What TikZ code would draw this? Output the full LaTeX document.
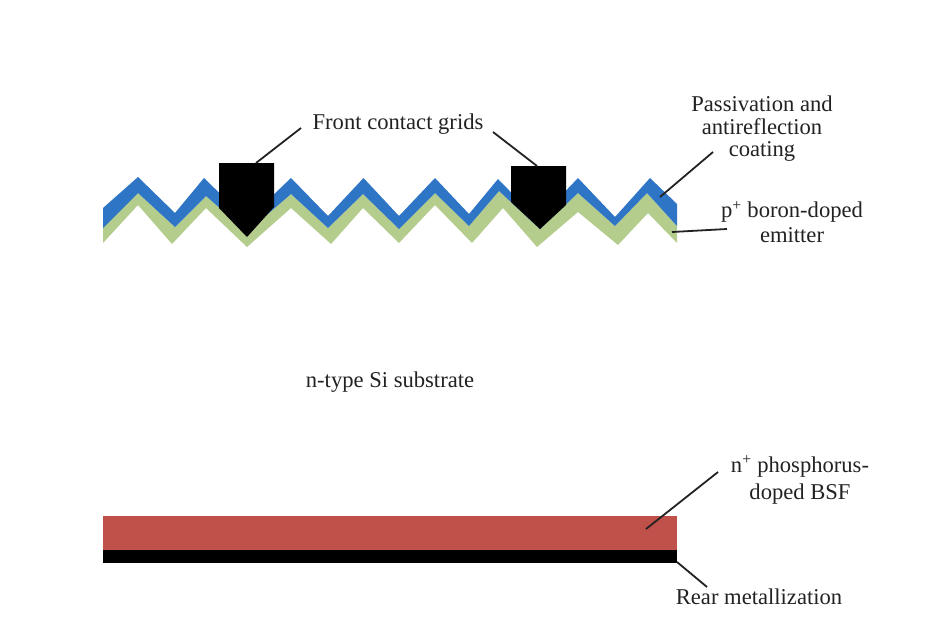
\documentclass[tikz,border=0pt]{standalone}
\usepackage{fontspec}
\setmainfont{Liberation Serif}
\definecolor{coatblue}{HTML}{2F75C6}
\definecolor{emitgreen}{HTML}{B4CC8C}
\definecolor{bsfred}{HTML}{C0504A}
\definecolor{inkdark}{HTML}{222222}
\tikzset{
  every node/.style={text=inkdark},
  lab/.style={align=center,inner sep=0pt,font=\fontsize{22.6}{#1}\selectfont},
  lab/.default={24},
  leader/.style={draw=inkdark,line width=1.8pt},
  coat/.style={fill=coatblue},
  emit/.style={fill=emitgreen},
  contact/.style={fill=black},
  bsf/.style={fill=bsfred},
  metal/.style={fill=black}
}
\begin{document}
\begin{tikzpicture}[x=1pt,y=-1pt]
\useasboundingbox (0,0) rectangle (925,623);
% emitter
\path[emit] (103,226) -- (138,193) -- (175,227) -- (206,196) -- (247,232) -- (291,194) -- (328,228) -- (363,194) -- (399,229) -- (435,193) -- (469,226) -- (499,191) -- (540,229) -- (578,193) -- (615,226) -- (647,193) -- (677,226)
  -- (677,243) -- (648,213) -- (618,245) -- (578,212) -- (537,247) -- (503,208) -- (472,243) -- (435,205) -- (399,243) -- (363,208) -- (331,244) -- (291,208) -- (247,247) -- (206,208) -- (172,244) -- (138,205) -- (103,243) -- cycle;
% coating
\path[coat] (103,208) -- (138,177) -- (175,213) -- (204,178) -- (247,220) -- (291,178) -- (328,216) -- (363.5,178) -- (399,216) -- (435,178) -- (469,214) -- (498,179) -- (538,220) -- (578,178) -- (615,217) -- (650,178) -- (677,204)
  -- (677,226) -- (647,193) -- (615,226) -- (578,193) -- (540,229) -- (499,191) -- (469,226) -- (435,193) -- (399,229) -- (363,194) -- (328,228) -- (291,194) -- (247,232) -- (206,196) -- (175,227) -- (138,193) -- (103,228) -- cycle;
% grids
\path[contact] (219,163) -- (274,163) -- (274,207) -- (247,237) -- (219,208) -- cycle;
\path[contact] (511,166) -- (566,166) -- (566,205) -- (540,229) -- (511,202) -- cycle;
% rear
\path[bsf] (103,516) rectangle (677,550);
\path[metal] (103,550) rectangle (677,563);
% labels
\node[lab] (fcg) at (398,124) {Front contact grids};
\node[lab=22.5] (pass) at (762,129) {Passivation and\\antireflection\\coating};
\node[lab=25] (emlab) at (792,222) {p\textsuperscript{+} boron-doped\\emitter};
\node[lab] (sub) at (390,382) {n-type Si substrate};
\node[lab=27] (bsflab) at (800,480) {n\textsuperscript{+} phosphorus-\\doped BSF};
\node[lab] (rear) at (759,597) {Rear metallization};
% leader ends
\coordinate (a1) at (301,128); \coordinate (a2) at (256,163);
\coordinate (b1) at (493,132); \coordinate (b2) at (537,166);
\coordinate (c1) at (713,152); \coordinate (c2) at (660,197);
\coordinate (d1) at (727,229); \coordinate (d2) at (672,232);
\coordinate (e1) at (718,472); \coordinate (e2) at (646,529);
\coordinate (f1) at (707,587); \coordinate (f2) at (677,562);
\draw[leader] (a1) -- (a2);
\draw[leader] (b1) -- (b2);
\draw[leader] (c1) -- (c2);
\draw[leader] (d1) -- (d2);
\draw[leader] (e1) -- (e2);
\draw[leader] (f1) -- (f2);
\end{tikzpicture}
\end{document}
